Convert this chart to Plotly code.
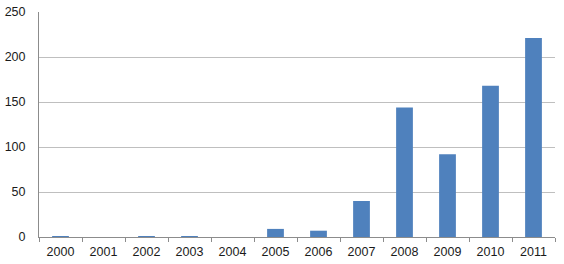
import plotly.graph_objects as go

years = ["2000", "2001", "2002", "2003", "2004", "2005", "2006", "2007", "2008", "2009", "2010", "2011"]
values = [1, 0, 1, 1, 0, 9, 7, 40, 144, 92, 168, 221]
y_ticks = [0, 50, 100, 150, 200, 250]

fig = go.Figure(go.Bar(
    x=years, y=values,
    marker=dict(color="#4F81BD", line=dict(width=0)),
))
fig.update_layout(
    width=564, height=264,
    margin=dict(l=39, r=9, t=12, b=27),
    paper_bgcolor="white", plot_bgcolor="white",
    bargap=0.61,
    showlegend=False,
    font=dict(family="Liberation Sans, Arial, sans-serif", size=12.5, color="#1a1a1a"),
)
fig.update_xaxes(
    type="category", showgrid=False, automargin=False,
    showline=True, linecolor="#8c8c8c", linewidth=1,
    ticks="outside", tickson="boundaries", ticklen=4, tickcolor="#8c8c8c",
    ticklabelstandoff=3,
)
fig.update_yaxes(
    range=[0, 250], tickvals=y_ticks, automargin=False,
    showgrid=True, gridcolor="#bfbfbf", gridwidth=1,
    showline=True, linecolor="#8c8c8c", linewidth=1,
    zeroline=False, ticks="", ticklabelstandoff=10,
)
fig.write_html("out.html")
